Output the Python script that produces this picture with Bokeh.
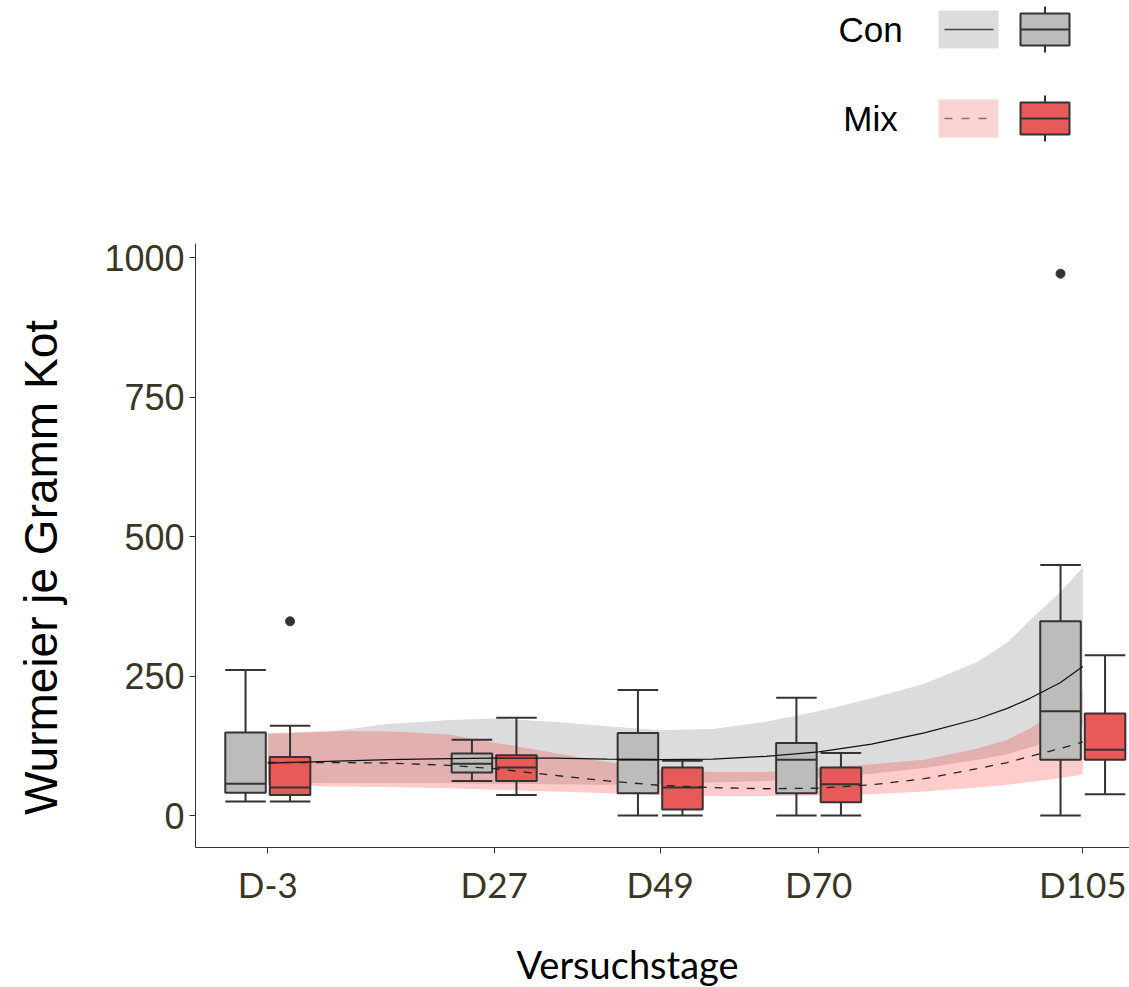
from bokeh.plotting import figure
from bokeh.models import FixedTicker, Range1d
from bokeh.layouts import column, row
from bokeh.embed import file_html
from bokeh.resources import INLINE
from bokeh.core.properties import value
import numpy as np

# ---------------- data ----------------
days = [-3, 27, 49, 70, 105]
day_labels = ["D-3", "D27", "D49", "D70", "D105"]
groups = ["Con", "Mix"]
x_title = "Versuchstage"
y_title = "Wurmeier je Gramm Kot"

con_lower_whisker = [25, 62, 0, 0, 0]
con_q1 = [41, 77, 40, 40, 100]
con_median = [57, 93, 100, 100, 187]
con_q3 = [149, 111, 148, 130, 348]
con_upper_whisker = [261, 136, 225, 211, 449]
con_outlier_day = [105]
con_outlier_value = [971]

mix_lower_whisker = [25, 37, 0, 0, 38]
mix_q1 = [37, 62, 11, 24, 100]
mix_median = [50, 86, 50, 56, 118]
mix_q3 = [105, 108, 86, 86, 183]
mix_upper_whisker = [161, 175, 98, 112, 287]
mix_outlier_day = [-3]
mix_outlier_value = [348]

fit_days = [-3, 5, 13, 21, 27, 35, 42, 49, 56, 63, 70, 77, 84, 91, 95, 98, 102, 105]
con_fit = [94, 97, 100, 102, 103, 103, 101, 100, 101, 106, 114, 128, 148, 173, 192, 210, 238, 267]
con_fit_low = [60, 58, 58, 58, 57, 56, 55, 57, 59, 62, 68, 75, 85, 100, 110, 122, 140, 160]
con_fit_high = [146, 150, 164, 171, 174, 168, 160, 153, 155, 168, 187, 210, 236, 275, 310, 350, 400, 445]
mix_fit = [95, 95, 94, 90, 84, 72, 62, 54, 50, 48, 49, 55, 66, 84, 95, 106, 120, 132]
mix_fit_low = [55, 52, 51, 49, 46, 43, 40, 37, 35, 35, 36, 38, 43, 50, 55, 60, 67, 74]
mix_fit_high = [148, 151, 151, 145, 131, 112, 96, 82, 78, 78, 85, 92, 100, 120, 136, 156, 190, 225]

y_ticks = [0, 250, 500, 750, 1000]

# ---------------- style / layout ----------------
W = 1129
LEG_H = 233          # legend strip on top
TOP = 10             # space above the panel
FRAME_H = 604        # panel height
BOT = 70             # tick labels below the panel
MAIN_H = TOP + FRAME_H + BOT
XT_H = 987 - LEG_H - MAIN_H   # strip for x title
LEFT = 195
YT_W = 90            # strip for y title
DODGE = 2.95
BOX_W = 5.37
EDGE = "#333333"
CON_FILL = "#bcbcbb"
MIX_FILL = "#e85a5a"
CON_RIBBON = "#dcdcdc"
MIX_RIBBON = "#ff0000"
TICK_COLOR = "#3b3524"


def blank(width, height, xr, yr, **kw):
    f = figure(width=width, height=height, x_range=xr, y_range=yr, output_backend="svg",
               toolbar_location=None, x_axis_type=None, y_axis_type=None, **kw)
    f.grid.visible = False
    f.outline_line_color = None
    return f


# ---------------- legend strip (pixel coordinates) ----------------
leg = blank(W, LEG_H, Range1d(LEFT, W), Range1d(LEG_H, 0),
            min_border_left=LEFT, min_border_right=0, min_border_top=0, min_border_bottom=0)

row_y = [29, 118]
rib_colors = [CON_RIBBON, "#fad3d3"]
box_fills = [CON_FILL, MIX_FILL]
dashes = ["solid", "8 9"]
line_cols = ["#444444", "#777777"]
for g, yc, rc, bf, dsh, lc in zip(groups, row_y, rib_colors, box_fills, dashes, line_cols):
    leg.text(x=[870], y=[yc], text=[g], text_align="center", text_baseline="middle",
             text_font=value("Liberation Sans"), text_font_size="35px", text_color="black")
    leg.quad(left=[938], right=[998], top=[yc - 19], bottom=[yc + 19],
             fill_color=rc, line_color=None)
    leg.segment(x0=[944], x1=[993], y0=[yc], y1=[yc], line_color=lc, line_width=1.3,
                line_dash=dsh)
    leg.segment(x0=[1044.5, 1044.5], x1=[1044.5, 1044.5], y0=[yc - 23, yc + 16],
                y1=[yc - 16, yc + 23], line_color=EDGE, line_width=2)
    leg.quad(left=[1020], right=[1069], top=[yc - 16], bottom=[yc + 16],
             fill_color=bf, line_color=EDGE, line_width=2)
    leg.segment(x0=[1020], x1=[1069], y0=[yc], y1=[yc], line_color=EDGE, line_width=2)

# ---------------- y title strip ----------------
ytf = blank(YT_W, MAIN_H, Range1d(0, YT_W), Range1d(0, FRAME_H),
            min_border_left=0, min_border_right=0, min_border_top=TOP, min_border_bottom=BOT)
ytf.text(x=[40], y=[280], text=[y_title], angle=np.pi / 2, text_align="center",
         text_baseline="alphabetic", text_font=value("Liberation Sans"),
         text_font_size="46px", text_color="black")

# ---------------- main panel ----------------
p = figure(width=W - YT_W, height=MAIN_H, x_range=Range1d(-12.58, 111.19),
           y_range=Range1d(-57.3, 1025.1), output_backend="svg", toolbar_location=None,
           min_border_left=LEFT - YT_W, min_border_right=0, min_border_top=TOP,
           min_border_bottom=BOT)
p.grid.visible = False
p.outline_line_color = None
p.background_fill_color = "white"

# ribbons
p.varea(x=fit_days, y1=con_fit_low, y2=con_fit_high, fill_color=CON_RIBBON, fill_alpha=1.0)
p.varea(x=fit_days, y1=mix_fit_low, y2=mix_fit_high, fill_color=MIX_RIBBON, fill_alpha=0.2)

# boxplots
d = np.array(days, dtype=float)
sets = [
    (d - DODGE, con_lower_whisker, con_q1, con_median, con_q3, con_upper_whisker, CON_FILL),
    (d + DODGE, mix_lower_whisker, mix_q1, mix_median, mix_q3, mix_upper_whisker, MIX_FILL),
]
for xc, lw, q1, med, q3, uw, fill in sets:
    p.segment(x0=xc, x1=xc, y0=q3, y1=uw, line_color=EDGE, line_width=2)
    p.segment(x0=xc, x1=xc, y0=lw, y1=q1, line_color=EDGE, line_width=2)
    p.segment(x0=xc - BOX_W / 2, x1=xc + BOX_W / 2, y0=uw, y1=uw, line_color=EDGE, line_width=2)
    p.segment(x0=xc - BOX_W / 2, x1=xc + BOX_W / 2, y0=lw, y1=lw, line_color=EDGE, line_width=2)
    p.vbar(x=xc, width=BOX_W, bottom=q1, top=q3, fill_color=fill, line_color=EDGE, line_width=2)
    p.segment(x0=xc - BOX_W / 2, x1=xc + BOX_W / 2, y0=med, y1=med, line_color=EDGE, line_width=2)

p.scatter(x=np.array(con_outlier_day, dtype=float) - DODGE, y=con_outlier_value, size=9,
          fill_color=EDGE, line_color=EDGE)
p.scatter(x=np.array(mix_outlier_day, dtype=float) + DODGE, y=mix_outlier_value, size=9,
          fill_color=EDGE, line_color=EDGE)

# fitted lines
p.line(x=fit_days, y=con_fit, line_color="#111111", line_width=1.2)
p.line(x=fit_days, y=mix_fit, line_color="#222222", line_width=1.3, line_dash="8 8")

# axes
xa = p.xaxis[0]
xa.ticker = FixedTicker(ticks=days)
xa.major_label_overrides = {dd: lab for dd, lab in zip(days, day_labels)}
xa.minor_tick_line_color = None
xa.major_tick_in = 0
xa.major_tick_out = 6
xa.axis_line_color = EDGE
xa.major_tick_line_color = EDGE
xa.major_label_standoff = 9
xa.major_label_text_font = "Lato"
xa.major_label_text_font_size = "35px"
xa.major_label_text_color = TICK_COLOR

ya = p.yaxis[0]
ya.ticker = FixedTicker(ticks=y_ticks)
ya.minor_tick_line_color = None
ya.major_tick_in = 0
ya.major_tick_out = 6
ya.axis_line_color = EDGE
ya.major_tick_line_color = EDGE
ya.major_label_standoff = 5
ya.major_label_text_font = "Liberation Sans"
ya.major_label_text_font_size = "36px"
ya.major_label_text_color = TICK_COLOR

# ---------------- x title strip ----------------
xtf = blank(W, XT_H, Range1d(LEFT, W), Range1d(0, XT_H),
            min_border_left=LEFT, min_border_right=0, min_border_top=0, min_border_bottom=0)
xtf.text(x=[627], y=[24], text=[x_title], text_align="center", text_baseline="alphabetic",
         text_font=value("Lato"), text_font_size="38px", text_color="black")

layout = column(leg, row(ytf, p, spacing=0), xtf, spacing=0)
open("out.html", "w").write(file_html(layout, INLINE))
